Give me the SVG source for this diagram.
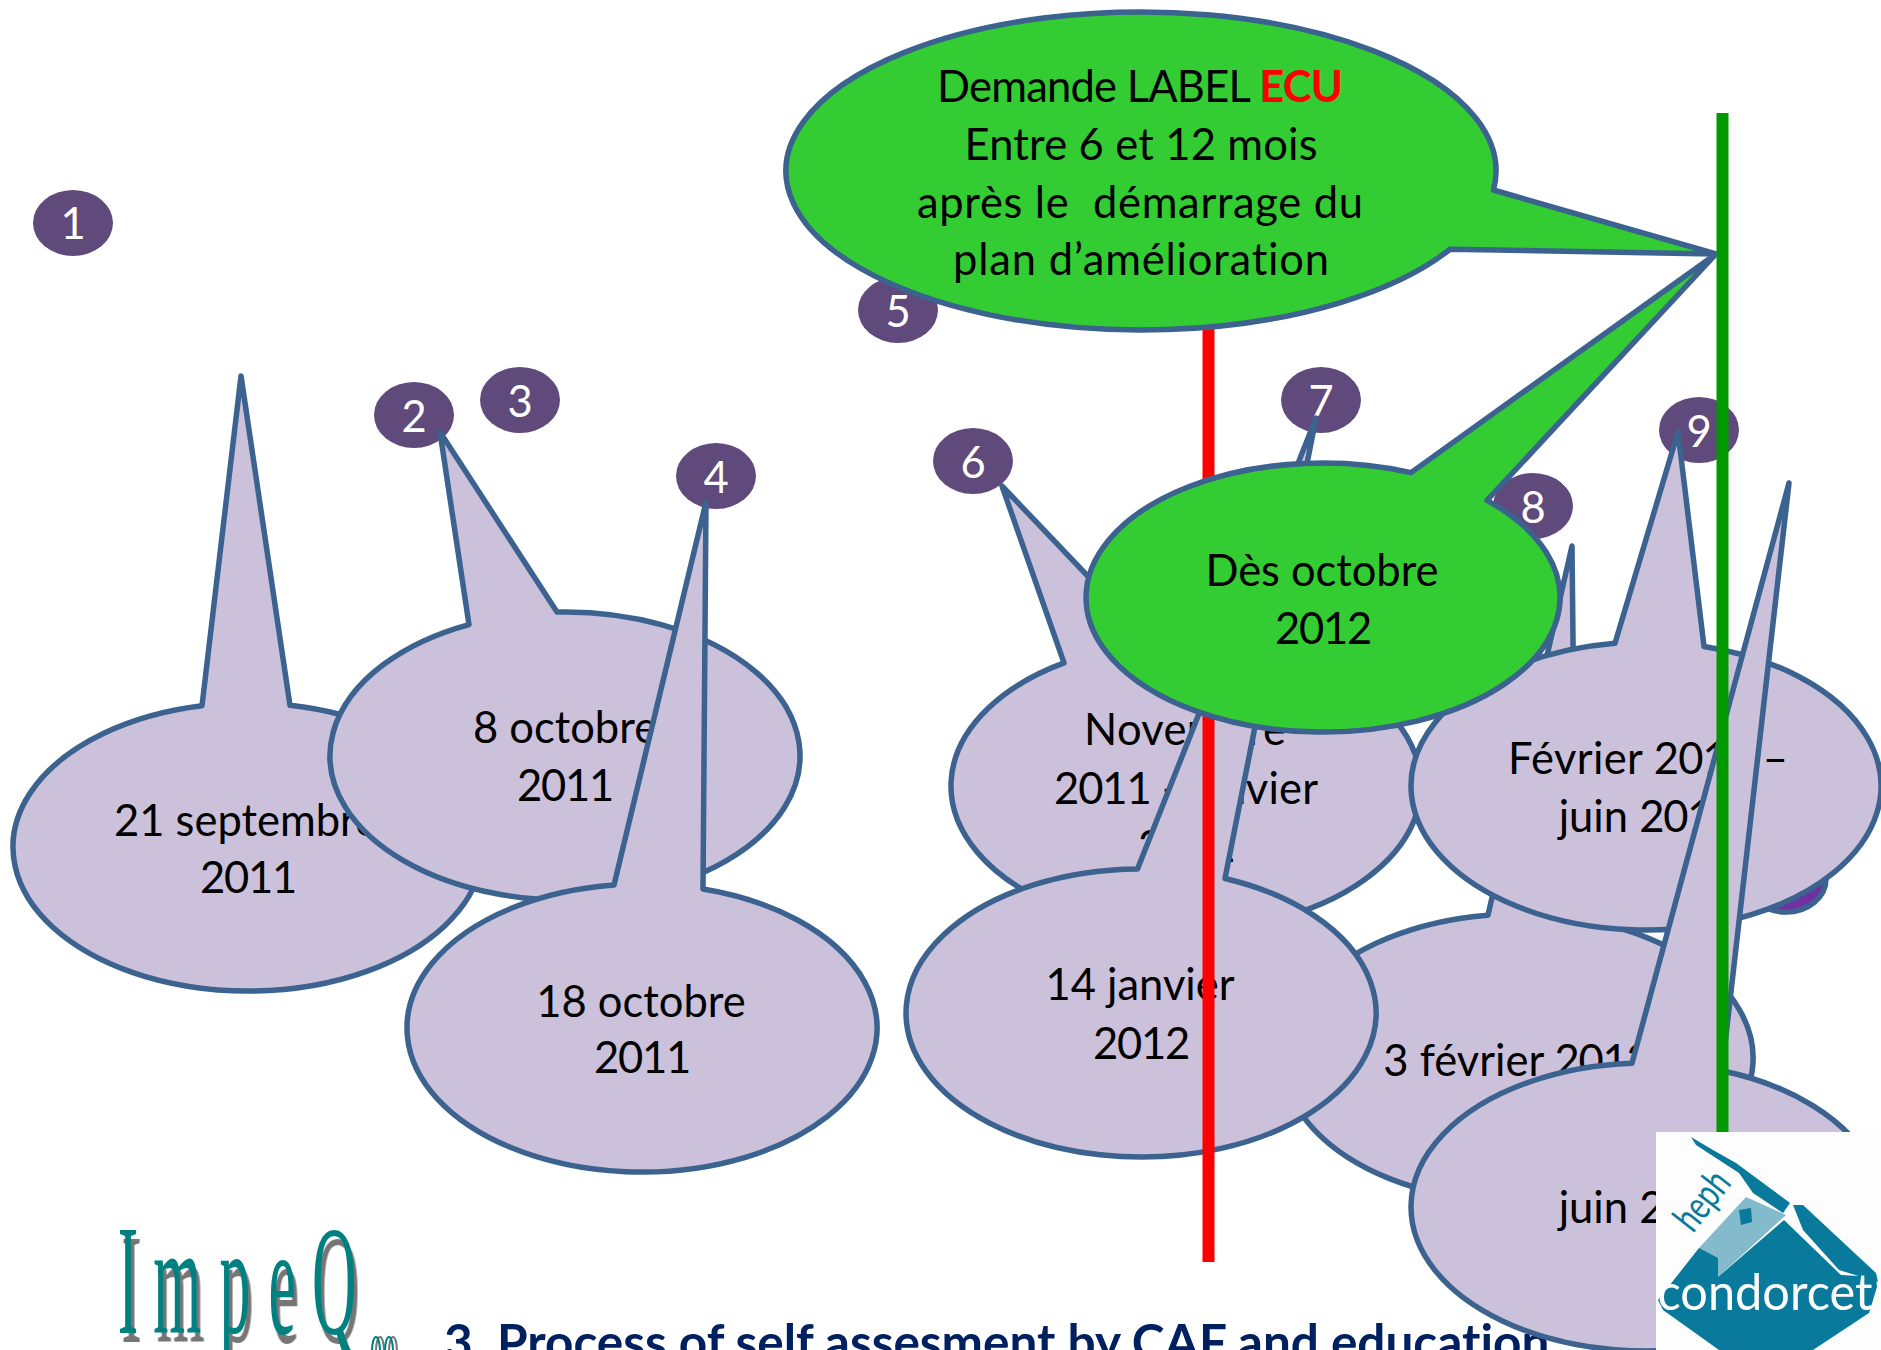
<svg xmlns="http://www.w3.org/2000/svg" width="1881" height="1350" viewBox="0 0 1881 1350">
<style>
text{font-family:"Lato","Liberation Sans",sans-serif;font-size:43.5px;text-anchor:middle;fill:#000;font-variant-ligatures:none}
.d{letter-spacing:-1.2px}
.b ellipse{fill:#604a7b}
.b text{fill:#fff}
.c{fill:#ccc1da;stroke:#3c6290;stroke-width:5.5;stroke-linejoin:round}
.g{fill:#33cc33;stroke:#3c6290;stroke-width:5.5;stroke-linejoin:round}
.w{font-family:"Liberation Serif",serif;font-size:156px;text-anchor:start;fill:#008080;filter:drop-shadow(9px 9px 0 #767676)}
.t{fill:#0a7a9c}
</style>
<rect width="1881" height="1350" fill="#fff"/>
<g id="logo-impeq">
<ellipse cx="380" cy="1351" rx="4" ry="14" fill="none" stroke="#767676" stroke-width="2"/>
<ellipse cx="393" cy="1351" rx="4" ry="14" fill="none" stroke="#767676" stroke-width="2"/>
<ellipse cx="376" cy="1351" rx="4" ry="14" fill="none" stroke="#008080" stroke-width="2"/>
<ellipse cx="389" cy="1351" rx="4" ry="14" fill="none" stroke="#008080" stroke-width="2"/>
<text class="w" transform="translate(0,1333) scale(.395,1)" x="298 388 556 680 790">ImpeQ</text>
</g>
<text id="title" x="444" y="1360" style="font-weight:700;fill:#002060;font-size:49.5px;text-anchor:start">3.<tspan x="497">Process of self assesment by CAF and education</tspan></text>
<g id="badge-1" class="b"><ellipse cx="73" cy="223" rx="40" ry="33"/><text x="73" y="239">1</text></g>
<g id="badge-2" class="b"><ellipse cx="414" cy="415" rx="40" ry="33"/><text x="414" y="432">2</text></g>
<g id="badge-3" class="b"><ellipse cx="520" cy="400" rx="40" ry="33"/><text x="520" y="417">3</text></g>
<g id="badge-4" class="b"><ellipse cx="716" cy="476" rx="40" ry="33"/><text x="716" y="493">4</text></g>
<g id="badge-5" class="b"><ellipse cx="898" cy="310" rx="40" ry="33"/><text x="898" y="327">5</text></g>
<g id="badge-6" class="b"><ellipse cx="973" cy="461" rx="40" ry="33"/><text x="973" y="478">6</text></g>
<g id="badge-7" class="b"><ellipse cx="1321" cy="400" rx="40" ry="33"/><text x="1321" y="417">7</text></g>
<g id="badge-8" class="b"><ellipse cx="1533" cy="506" rx="40" ry="33"/><text x="1533" y="523">8</text></g>
<g id="badge-9" class="b"><ellipse cx="1699" cy="430" rx="40" ry="33"/><text x="1699" y="447">9</text></g>
<ellipse id="badge-10" cx="1786" cy="879" rx="40" ry="33" fill="#7030a0" stroke="#3c6290" stroke-width="5.5"/>
<g id="callout-a"><path class="c" d="M202,705.79L241,376L290,705.32A235,144 0 1 1 202,705.79Z"/><text x="246" y="836">21 septembre</text><text x="248" y="893" class="d">2011</text></g>
<g id="callout-b"><path class="c" d="M469,624.56L440,432L557,612.08A235,144 0 1 1 469,624.56Z"/><text x="565" y="743">8 octobre</text><text x="565" y="801" class="d">2011</text></g>
<g id="callout-c"><path class="c" d="M614,885.03L706,502L703,888.94A235,144 0 1 1 614,885.03Z"/><text x="641" y="1017">18 octobre</text><text x="642" y="1073" class="d">2011</text></g>
<g id="callout-d"><path class="c" d="M1064,662.92L1002,486L1152,643.51A235,144 0 1 1 1064,662.92Z"/><text x="1185" y="745" textLength="202">Novembre</text><text x="1186" y="804" textLength="264"><tspan class="d">2011</tspan> - janvier</text><text x="1186" y="862" class="d">2012</text></g>
<g id="callout-f"><path class="c" d="M1488,915.18L1572,546L1576,918.45A235,144 0 1 1 1488,915.18Z"/><text x="1517" y="1076">3 février <tspan class="d">2012</tspan></text></g>
<g id="callout-e"><path class="c" d="M1137.5,869.02L1316,418L1225,878.51A235,144 0 1 1 1137.5,869.02Z"/><text x="1140" y="1000">14 janvier</text><text x="1141" y="1059" class="d">2012</text></g>
<g id="callout-g"><path class="c" d="M1615,643.26L1678,432L1704,646.45A235,144 0 1 1 1615,643.26Z"/><text x="1648" y="774" textLength="280">Février <tspan class="d">2012</tspan> –</text><text x="1647" y="832">juin <tspan class="d">2012</tspan></text></g>
<g id="callout-h"><path class="c" d="M1632,1063.26L1789,483L1722,1070.74A235,144 0 1 1 1632,1063.26Z"/><text x="1647" y="1223">juin <tspan class="d">2012</tspan></text></g>
<g id="connectors">
<rect x="1202.5" y="320" width="12" height="942" fill="#ff0000"/>
</g>
<g id="callout-demande"><path class="g" d="M1493.46,190L1716,254L1450,249.27A355,159 0 1 1 1493.46,190Z"/>
<text x="1140" y="102" textLength="406">Demande LABEL <tspan style="font-weight:700;fill:#ff0000">ECU</tspan></text><text x="1141" y="160" textLength="353">Entre 6 et 12 mois</text><text x="1140" y="218" textLength="446">après le &#160;démarrage du</text><text x="1141" y="275" textLength="376">plan d’amélioration</text></g>
<g id="callout-des"><path class="g" d="M1411,472.62L1716,254L1487,500.4A237,134.5 0 1 1 1411,472.62Z"/><text x="1322" y="586" textLength="233">Dès octobre</text><text x="1323" y="644" class="d">2012</text></g>
<rect id="green-line" x="1716.5" y="113" width="12" height="1030" fill="#009900"/>
<g id="logo-condorcet">
<rect x="1656" y="1132" width="225" height="218" fill="#fdfdfd"/>
<path class="t" opacity=".5" d="M1699,1248L1746,1197L1786,1215L1718,1277Z"/>
<path class="t" d="M1658,1300L1699,1248L1718,1258L1718,1277L1784,1220L1841,1275L1876,1277L1877,1287L1869,1313L1813,1350L1719,1350L1663,1310Z"/>
<path class="t" d="M1691,1137L1713,1150L1736,1163L1790,1203L1783,1213L1753,1193L1739,1173L1696,1145Z"/>
<path class="t" d="M1793,1205L1803,1205L1876,1273L1878,1282L1839,1270L1803,1230Z"/>
<path class="t" d="M1739,1210L1751,1208L1752,1222L1741,1225Z"/>
<text x="1765" y="1310" textLength="215" lengthAdjust="spacingAndGlyphs" style="fill:#fff;font-size:50px">condorcet</text>
<text transform="translate(1693,1234) rotate(-52)" x="32" textLength="64" lengthAdjust="spacingAndGlyphs" style="fill:#0a7a9c;font-size:40px">heph</text>
</g>
</svg>
